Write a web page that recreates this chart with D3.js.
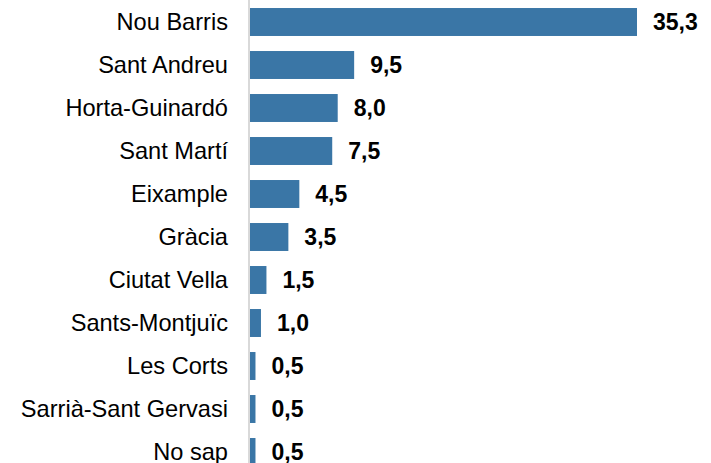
<!DOCTYPE html>
<html>
<head>
<meta charset="utf-8">
<script src="https://cdn.jsdelivr.net/npm/d3@7"></script>
<style>
  html, body { margin: 0; padding: 0; background: #fff; }
  svg { display: block; }
</style>
</head>
<body>
<svg id="chart" width="711" height="463"></svg>
<script>
const categories = ["Nou Barris", "Sant Andreu", "Horta-Guinardó", "Sant Martí", "Eixample", "Gràcia", "Ciutat Vella", "Sants-Montjuïc", "Les Corts", "Sarrià-Sant Gervasi", "No sap"];
const values = [35.3, 9.5, 8.0, 7.5, 4.5, 3.5, 1.5, 1.0, 0.5, 0.5, 0.5];
const valueLabels = ["35,3", "9,5", "8,0", "7,5", "4,5", "3,5", "1,5", "1,0", "0,5", "0,5", "0,5"];

const data = categories.map((c, i) => ({ cat: c, val: values[i], lab: valueLabels[i] }));

const svg = d3.select("#chart");
const x0 = 250;
const x = d3.scaleLinear().domain([0, 35.3]).range([x0, 637]);
const y = d3.scaleBand().domain(categories).range([0.5, 473.5]).paddingInner(0.35).paddingOuter(0.175);

svg.selectAll("rect.bar").data(data).enter().append("rect")
  .attr("class", "bar")
  .attr("x", x(0))
  .attr("y", d => y(d.cat))
  .attr("width", d => x(d.val) - x(0))
  .attr("height", y.bandwidth())
  .attr("fill", "#3a76a6");

svg.append("line")
  .attr("x1", x0 - 1).attr("x2", x0 - 1)
  .attr("y1", 0).attr("y2", 463)
  .attr("stroke", "#d9d9d9").attr("stroke-width", 2);

svg.selectAll("text.cat").data(data).enter().append("text")
  .attr("class", "cat")
  .attr("x", 228)
  .attr("y", d => y(d.cat) + y.bandwidth() / 2)
  .attr("dy", "0.35em")
  .attr("text-anchor", "end")
  .attr("font-family", "Liberation Sans, Arial, sans-serif")
  .attr("font-size", 23.6)
  .attr("fill", "#000")
  .text(d => d.cat);

svg.selectAll("text.val").data(data).enter().append("text")
  .attr("class", "val")
  .attr("x", d => x(d.val) + 16)
  .attr("y", d => y(d.cat) + y.bandwidth() / 2)
  .attr("dy", "0.35em")
  .attr("font-family", "Liberation Sans, Arial, sans-serif")
  .attr("font-size", 23)
  .attr("font-weight", "bold")
  .attr("fill", "#000")
  .text(d => d.lab);
</script>
</body>
</html>
